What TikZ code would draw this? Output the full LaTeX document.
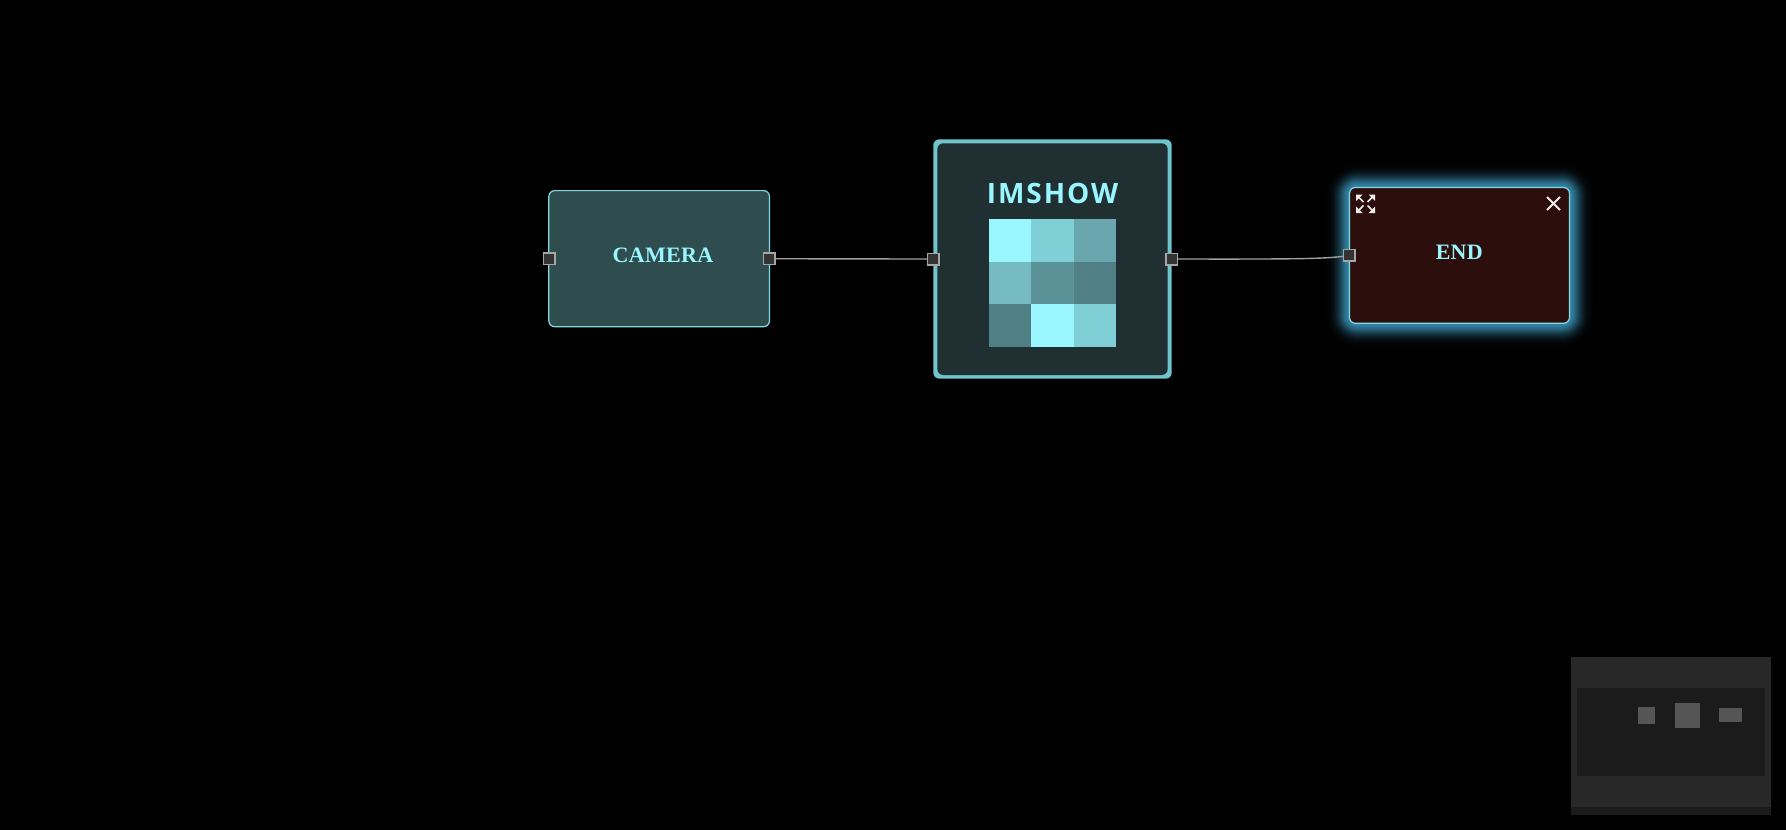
\documentclass[tikz,border=0pt]{standalone}
\usepackage{fontspec}
\setmainfont{Liberation Serif}
\newfontfamily\opensans{Open Sans}
\definecolor{txt}{HTML}{99F6FF}
\definecolor{camfill}{HTML}{2F4C4F}
\definecolor{imfill}{HTML}{1F2F32}
\definecolor{endfill}{HTML}{2C0E0C}
\definecolor{edgecol}{HTML}{84DAE2}
\definecolor{imedge}{HTML}{70C4CB}
\definecolor{glowcol}{HTML}{3E9CC4}
\definecolor{cA}{HTML}{99F6FF}
\definecolor{cB}{HTML}{80CED6}
\definecolor{cC}{HTML}{69A6AE}
\definecolor{cD}{HTML}{75BBC1}
\definecolor{cE}{HTML}{5B9298}
\definecolor{cF}{HTML}{507F85}
\definecolor{mapouter}{HTML}{282828}
\definecolor{mapinner}{HTML}{1B1B1B}
\definecolor{mapnode}{HTML}{555555}
\definecolor{portedge}{HTML}{A5A5A5}
\definecolor{portfill}{HTML}{333333}
\definecolor{wirecol}{HTML}{A0A0A0}
\tikzset{
  x=1pt,y=-1pt,
  boxnode/.style={draw=edgecol,line width=1.2pt,rounded corners=6pt,inner sep=0pt,outer sep=0pt},
  solidbox/.style={rounded corners=6pt,inner sep=0pt,outer sep=0pt},
  portbox/.style={draw=portedge,fill=portfill,line width=1.5pt,minimum size=11.5pt,inner sep=0pt,outer sep=0pt},
  wire/.style={draw=wirecol,line width=1.4pt},
  cell/.style={minimum size=42.5pt,inner sep=0pt,outer sep=0pt,anchor=north west},
  maprect/.style={inner sep=0pt,outer sep=0pt,anchor=north west},
  serifl/.style={text=txt,font=\fontsize{22}{22}\selectfont\bfseries,anchor=base,inner sep=0pt},
  icon/.style={draw=white!93!black,line width=1.8pt},
}
\begin{document}
\begin{tikzpicture}
\useasboundingbox[fill=black] (0,0) rectangle (1786,830);
% glow of END
\foreach \d in {26,25,...,1}{
  \pgfmathsetmacro{\m}{85*exp(-(\d/11.7)*(\d/11.7))}
  \pgfmathsetmacro{\w}{2*\d}
  \draw[draw=glowcol!\m!black,line width=\w pt,rounded corners=8pt] (1349.5,187.5) rectangle (1569.5,323.3);
}
% nodes
\node[boxnode,fill=camfill,minimum width=220.7pt,minimum height=136.1pt] (camera) at (659.15,258.65) {};
\node[solidbox,fill=imedge,minimum width=238.4pt,minimum height=239.4pt] (imshow) at (1052.5,259) {};
\node[solidbox,fill=imfill,minimum width=230.4pt,minimum height=231.7pt] (imshowin) at (1052.5,259.15) {};
\node[boxnode,fill=endfill,minimum width=220pt,minimum height=135.8pt] (endnode) at (1459.5,255.4) {};
% labels
\node[serifl] (camlabel) at (663,262) {\addfontfeature{LetterSpace=1.5}CAMERA};
\node[serifl] (endlabel) at (1459.3,259) {\addfontfeature{LetterSpace=1.5}END};
\node[text=txt,font=\opensans\fontsize{28}{28}\selectfont\bfseries,anchor=base,inner sep=0pt] (imlabel) at (1052.6,203.3) {\addfontfeature{LetterSpace=7}IMSHOW};
% image grid
\node[cell,fill=cA] (c11) at (988.7,219) {};
\node[cell,fill=cB] (c12) at (1031.2,219) {};
\node[cell,fill=cC] (c13) at (1073.7,219) {};
\node[cell,fill=cD] (c21) at (988.7,261.5) {};
\node[cell,fill=cE] (c22) at (1031.2,261.5) {};
\node[cell,fill=cF] (c23) at (1073.7,261.5) {};
\node[cell,fill=cF] (c31) at (988.7,304) {};
\node[cell,fill=cA] (c32) at (1031.2,304) {};
\node[cell,fill=cB] (c33) at (1073.7,304) {};
% connectors
\coordinate (p1) at (769.3,258.7);
\coordinate (p2) at (933.3,259);
\coordinate (p3) at (1171.7,259);
\coordinate (p4) at (1349.3,255.3);
\draw[wire] (p1) .. controls (850,258.9) and (850,258.9) .. (p2);
\draw[wire] (p3) .. controls (1300,259.2) and (1330,259) .. (p4);
% ports
\node[portbox] (campl) at (549,258.7) {};
\node[portbox] (campr) at (p1) {};
\node[portbox] (impl) at (p2) {};
\node[portbox] (impr) at (p3) {};
\node[portbox] (endpl) at (p4) {};
% icons
\draw[icon] (1547,197) -- (1560,210) (1560,197) -- (1547,210);
\begin{scope}[line width=1.7pt,draw=white!93!black]
\draw (1358,196.5) -- (1363.5,202) (1373,196.5) -- (1367.5,202) (1358,211) -- (1363.5,205.5) (1373,211) -- (1367.5,205.5);
\fill[white!93!black] (1356,194.5) -- (1362.5,194.5) -- (1356,201) -- cycle
  (1375,194.5) -- (1368.5,194.5) -- (1375,201) -- cycle
  (1356,213) -- (1362.5,213) -- (1356,206.5) -- cycle
  (1375,213) -- (1368.5,213) -- (1375,206.5) -- cycle;
\end{scope}
% minimap
\node[maprect,fill=mapouter,minimum width=200pt,minimum height=150pt] (mapbase) at (1571,657) {};
\node[maprect,fill=mapinner,minimum width=200pt,minimum height=8pt] (mapstrip) at (1571,807) {};
\node[maprect,fill=mapinner,minimum width=188pt,minimum height=87.7pt] (mapview) at (1577,688) {};
\node[maprect,fill=mapnode,minimum width=17pt,minimum height=17pt] (mapa) at (1638,707) {};
\node[maprect,fill=mapnode,minimum width=25pt,minimum height=25pt] (mapb) at (1675,703) {};
\node[maprect,fill=mapnode,minimum width=23pt,minimum height=14pt] (mapc) at (1719,708) {};
\end{tikzpicture}
\end{document}
